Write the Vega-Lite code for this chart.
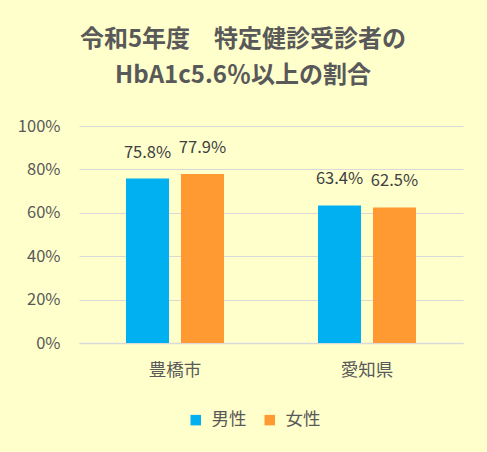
{
  "$schema": "https://vega.github.io/schema/vega-lite/v6.json",
  "autosize": "none",
  "width": 384,
  "height": 217,
  "padding": {"left": 79, "top": 126, "right": 24, "bottom": 109},
  "background": "#FFFFCC",
  "config": {
    "view": {"stroke": null},
    "font": "Noto Sans CJK JP"
  },
  "title": {
    "text": ["令和5年度　特定健診受診者の", "HbA1c5.6％以上の割合"],
    "font": "Noto Sans CJK JP",
    "fontSize": 24,
    "fontWeight": "bold",
    "color": "#595959",
    "lineHeight": 36,
    "anchor": "middle",
    "frame": "group",
    "dx": -28,
    "offset": 30
  },
  "data": {
    "values": [
      {"region": "豊橋市", "sex": "男性", "value": 0.758},
      {"region": "豊橋市", "sex": "女性", "value": 0.779},
      {"region": "愛知県", "sex": "男性", "value": 0.634},
      {"region": "愛知県", "sex": "女性", "value": 0.625}
    ]
  },
  "encoding": {
    "x": {
      "field": "region",
      "type": "nominal",
      "sort": ["豊橋市", "愛知県"],
      "scale": {"paddingInner": 0, "paddingOuter": 0},
      "axis": {
        "title": null,
        "labelAngle": 0,
        "labelFontSize": 17.5,
        "labelColor": "#595959",
        "labelPadding": 18,
        "ticks": false,
        "domainColor": "#D9D9D9",
        "domainWidth": 1.5
      }
    },
    "xOffset": {
      "field": "sex",
      "type": "nominal",
      "sort": ["男性", "女性"],
      "scale": {"paddingInner": 0.218, "paddingOuter": 0.855}
    },
    "y": {
      "field": "value",
      "type": "quantitative",
      "scale": {"domain": [0, 1]},
      "axis": {
        "title": null,
        "values": [0, 0.2, 0.4, 0.6, 0.8, 1],
        "format": ".0%",
        "labelFontSize": 16.5,
        "labelColor": "#595959",
        "labelPadding": 19,
        "ticks": false,
        "domain": false,
        "gridColor": "#D9D9D9",
        "gridWidth": 1.2
      }
    }
  },
  "layer": [
    {
      "mark": {"type": "bar"},
      "encoding": {
        "color": {
          "field": "sex",
          "type": "nominal",
          "sort": ["男性", "女性"],
          "scale": {"domain": ["男性", "女性"], "range": ["#00B0F0", "#FF9A33"]},
          "legend": {
            "title": null,
            "orient": "none",
            "direction": "horizontal",
            "legendX": 108,
            "legendY": 285,
            "symbolType": "square",
            "symbolSize": 110,
            "symbolStrokeWidth": 0,
            "labelFontSize": 17.5,
            "labelColor": "#595959",
            "labelOffset": 7,
            "columnPadding": 14
          }
        }
      }
    },
    {
      "mark": {"type": "text", "baseline": "middle", "dy": -26, "fontSize": 16.5, "color": "#404040"},
      "encoding": {
        "text": {"field": "value", "type": "quantitative", "format": ".1%"}
      }
    }
  ]
}
